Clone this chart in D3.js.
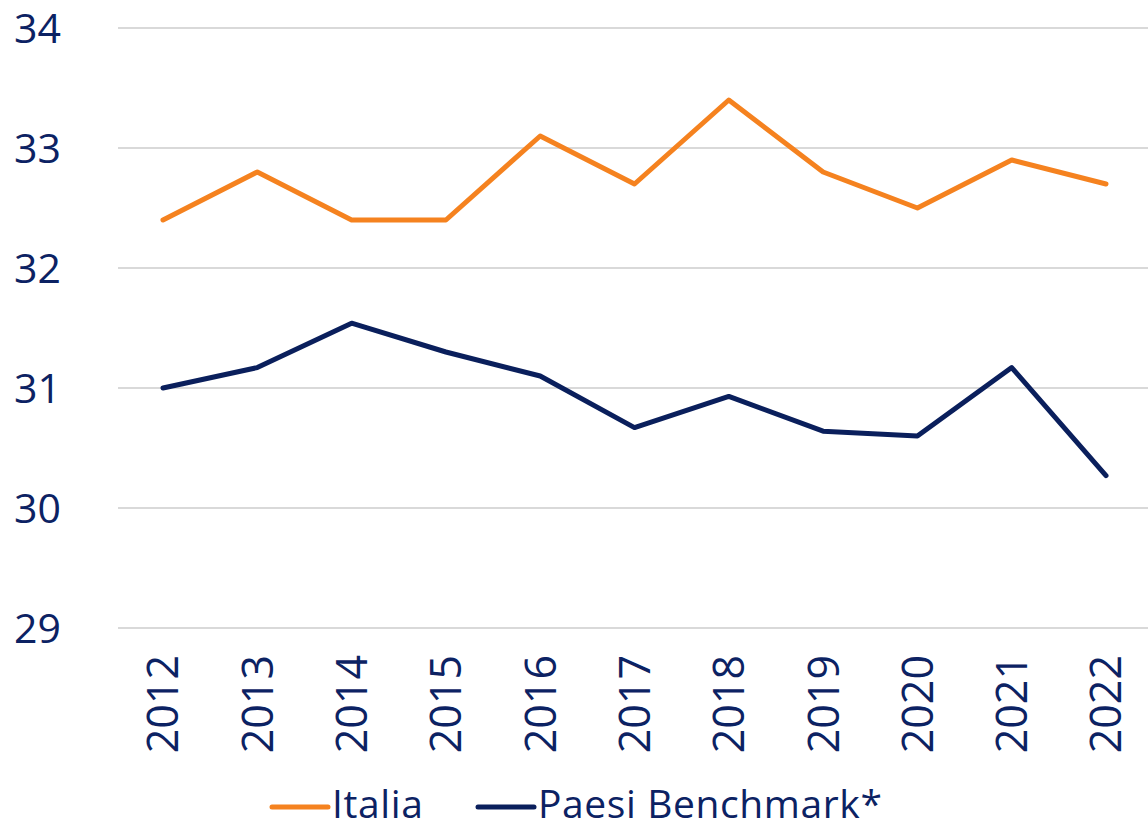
<!DOCTYPE html>
<html>
<head>
<meta charset="utf-8">
<script src="https://cdn.jsdelivr.net/npm/d3@7"></script>
<style>
  body { margin: 0; background: #fff; }
  svg { display: block; }
</style>
</head>
<body>
<div id="chart"></div>
<script>
// ------------------------------ DATA ------------------------------
var years = ["2012", "2013", "2014", "2015", "2016", "2017", "2018", "2019", "2020", "2021", "2022"];
var italia = [32.4, 32.8, 32.4, 32.4, 33.1, 32.7, 33.4, 32.8, 32.5, 32.9, 32.7];
var benchmark = [31.0, 31.17, 31.54, 31.3, 31.1, 30.67, 30.93, 30.64, 30.6, 31.17, 30.27];
var yTicks = [29, 30, 31, 32, 33, 34];
var seriesNames = ["Italia", "Paesi Benchmark*"];

// ------------------------------ CONFIG ------------------------------
var width = 1148,
    height = 829,
    gridLeft = 118,
    textColor = "#0c2263",
    colorItalia = "#f5821f",
    colorBench = "#0a1f5c",
    fontFamily = "'Open Sans', sans-serif";

var svg = d3.select("#chart")
    .append("svg")
    .attr("width", width)
    .attr("height", height);

var x = d3.scalePoint()
    .domain(years)
    .range([163, 1106]);

var y = d3.scaleLinear()
    .domain([29, 34])
    .range([628, 28]);

// grid lines
svg.selectAll("line.grid")
    .data(yTicks)
    .enter()
    .append("line")
    .attr("class", "grid")
    .attr("x1", gridLeft)
    .attr("x2", width)
    .attr("y1", function (d) {return y(d);})
    .attr("y2", function (d) {return y(d);})
    .attr("stroke", "#d9d9d9")
    .attr("stroke-width", 2);

// y labels
svg.selectAll("text.ylab")
    .data(yTicks)
    .enter()
    .append("text")
    .attr("class", "ylab")
    .attr("x", 61)
    .attr("y", function (d) {return y(d);})
    .attr("dy", "0.36em")
    .attr("text-anchor", "end")
    .attr("font-family", fontFamily)
    .attr("font-size", 41)
    .attr("fill", textColor)
    .text(function (d) {return d;});

// x labels (rotated)
svg.selectAll("text.xlab")
    .data(years)
    .enter()
    .append("text")
    .attr("class", "xlab")
    .attr("transform", function (d) {return "translate(" + x(d) + ",655) rotate(-90)";})
    .attr("dy", "0.36em")
    .attr("text-anchor", "end")
    .attr("font-family", fontFamily)
    .attr("font-size", 43)
    .attr("fill", textColor)
    .text(function (d) {return d;});

// lines
var line = d3.line()
    .x(function (d, i) {return x(years[i]);})
    .y(function (d) {return y(d);});

[[italia, colorItalia], [benchmark, colorBench]].forEach(function (s) {
    svg.append("path")
        .datum(s[0])
        .attr("d", line)
        .attr("fill", "none")
        .attr("stroke", s[1])
        .attr("stroke-width", 5)
        .attr("stroke-linejoin", "round")
        .attr("stroke-linecap", "round");
});

// ------------------------------ LEGEND ------------------------------
var legendX = [272, 478],
    legendColors = [colorItalia, colorBench],
    legendY = 804;

var legend = svg.selectAll("g.legend")
    .data(seriesNames)
    .enter()
    .append("g")
    .attr("class", "legend")
    .attr("transform", function (d, i) {return "translate(" + legendX[i] + "," + legendY + ")";});

legend.append("line")
    .attr("x1", 0)
    .attr("x2", 56)
    .attr("y1", 3)
    .attr("y2", 3)
    .attr("stroke", function (d, i) {return legendColors[i];})
    .attr("stroke-width", 5)
    .attr("stroke-linecap", "round");

legend.append("text")
    .attr("x", 60)
    .attr("dy", "0.36em")
    .attr("font-family", fontFamily)
    .attr("font-size", 39)
    .attr("letter-spacing", 0.6)
    .attr("fill", textColor)
    .text(function (d) {return d;});
</script>
</body>
</html>
